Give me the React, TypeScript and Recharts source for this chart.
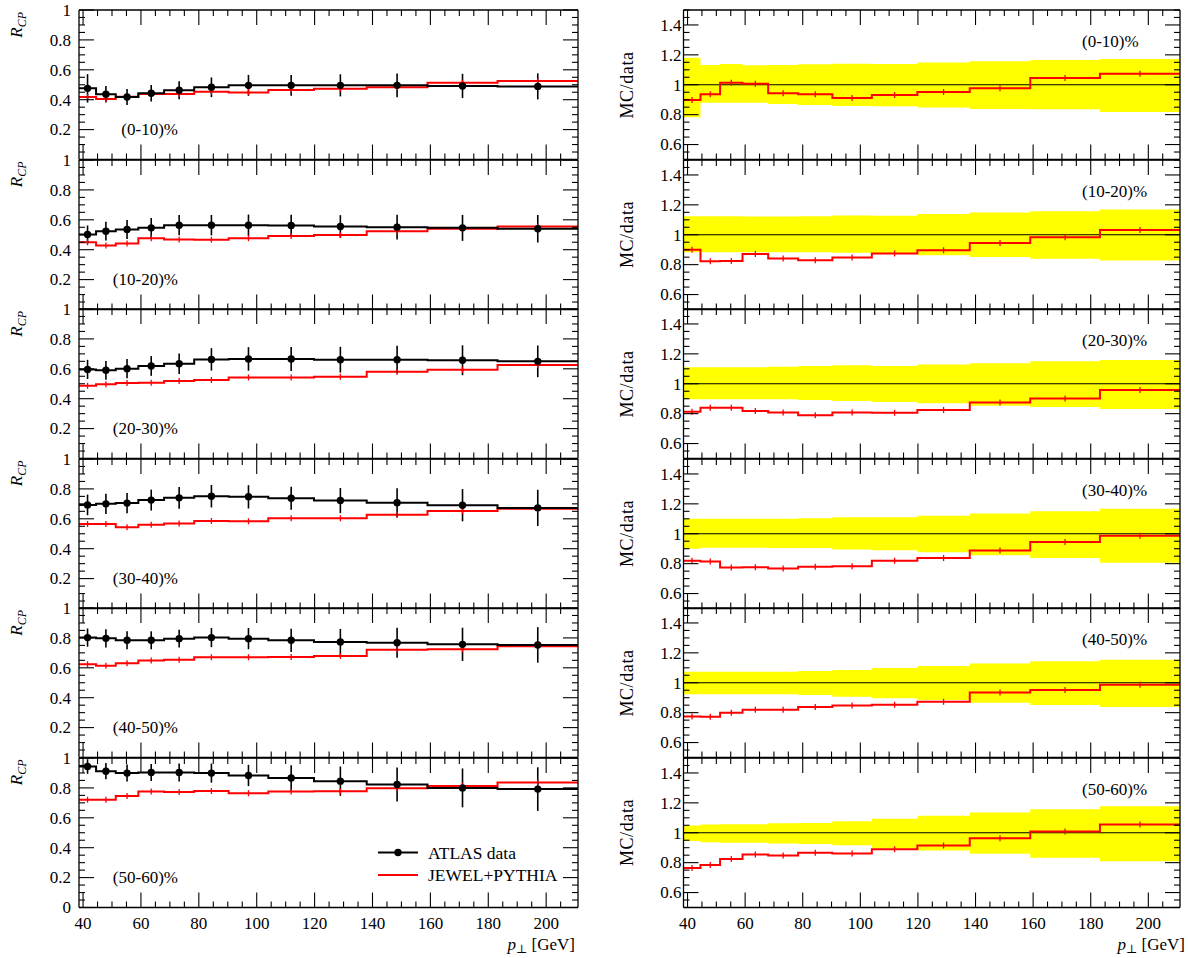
import React from 'react';
import { ComposedChart, Line, Area, Scatter, XAxis, YAxis, ErrorBar, ReferenceLine } from 'recharts';

// p_T bins (GeV), shared by every panel
const BIN_EDGES = [38.6, 44.5, 51.3, 59.1, 68.0, 78.4, 90.3, 104.0, 119.8, 138.0, 159.0, 183.2, 211.0];
const BIN_CENTERS = [41.55, 47.9, 55.2, 63.55, 73.2, 84.35, 97.15, 111.9, 128.9, 148.5, 171.1, 197.1];

const CENTRALITIES = ['(0-10)%', '(10-20)%', '(20-30)%', '(30-40)%', '(40-50)%', '(50-60)%'];

// ATLAS data R_CP, one row per centrality class
const ATLAS_RCP = [
  [0.476, 0.436, 0.418, 0.443, 0.463, 0.483, 0.496, 0.496, 0.496, 0.496, 0.492, 0.489],
  [0.502, 0.524, 0.535, 0.546, 0.564, 0.564, 0.564, 0.562, 0.555, 0.551, 0.546, 0.540],
  [0.596, 0.590, 0.601, 0.619, 0.634, 0.663, 0.666, 0.666, 0.661, 0.661, 0.657, 0.650],
  [0.693, 0.700, 0.705, 0.725, 0.740, 0.751, 0.747, 0.738, 0.722, 0.707, 0.691, 0.673],
  [0.802, 0.797, 0.784, 0.784, 0.795, 0.802, 0.795, 0.784, 0.773, 0.768, 0.757, 0.753],
  [0.943, 0.912, 0.899, 0.903, 0.903, 0.899, 0.883, 0.866, 0.845, 0.823, 0.800, 0.792],
];

const ATLAS_ERR = [
  [0.095, 0.055, 0.054, 0.055, 0.060, 0.066, 0.070, 0.069, 0.074, 0.079, 0.081, 0.087],
  [0.060, 0.063, 0.064, 0.066, 0.068, 0.068, 0.071, 0.071, 0.076, 0.082, 0.087, 0.092],
  [0.064, 0.063, 0.064, 0.066, 0.069, 0.075, 0.079, 0.080, 0.086, 0.093, 0.100, 0.106],
  [0.069, 0.068, 0.068, 0.070, 0.072, 0.075, 0.078, 0.077, 0.084, 0.098, 0.108, 0.121],
  [0.061, 0.061, 0.060, 0.060, 0.060, 0.064, 0.071, 0.078, 0.087, 0.100, 0.111, 0.119],
  [0.049, 0.054, 0.057, 0.057, 0.061, 0.064, 0.071, 0.085, 0.098, 0.114, 0.130, 0.146],
];

// JEWEL+PYTHIA R_CP
const JEWEL_RCP = [
  [0.418, 0.405, 0.420, 0.438, 0.438, 0.454, 0.449, 0.465, 0.474, 0.483, 0.514, 0.525],
  [0.450, 0.428, 0.441, 0.477, 0.468, 0.466, 0.477, 0.491, 0.499, 0.524, 0.540, 0.555],
  [0.487, 0.496, 0.505, 0.507, 0.518, 0.525, 0.541, 0.541, 0.547, 0.581, 0.594, 0.625],
  [0.566, 0.566, 0.544, 0.560, 0.569, 0.586, 0.584, 0.604, 0.604, 0.627, 0.653, 0.667],
  [0.623, 0.614, 0.630, 0.648, 0.654, 0.670, 0.670, 0.672, 0.679, 0.721, 0.724, 0.744],
  [0.720, 0.720, 0.745, 0.776, 0.772, 0.780, 0.765, 0.776, 0.778, 0.798, 0.812, 0.836],
];

// MC/data ratio
const RATIO = [
  [0.898, 0.936, 1.014, 1.007, 0.943, 0.936, 0.911, 0.931, 0.951, 0.976, 1.045, 1.074],
  [0.899, 0.823, 0.825, 0.872, 0.841, 0.830, 0.848, 0.875, 0.897, 0.944, 0.984, 1.031],
  [0.813, 0.839, 0.839, 0.817, 0.808, 0.790, 0.808, 0.806, 0.824, 0.875, 0.902, 0.958],
  [0.819, 0.814, 0.774, 0.776, 0.768, 0.779, 0.783, 0.819, 0.837, 0.888, 0.944, 0.986],
  [0.775, 0.773, 0.800, 0.820, 0.820, 0.838, 0.847, 0.853, 0.873, 0.934, 0.952, 0.987],
  [0.765, 0.785, 0.825, 0.854, 0.848, 0.866, 0.861, 0.890, 0.915, 0.964, 1.009, 1.055],
];

// data uncertainty band in the ratio panels
const BAND_HI = [
  [1.181, 1.132, 1.139, 1.130, 1.132, 1.137, 1.141, 1.139, 1.148, 1.157, 1.166, 1.172],
  [1.124, 1.124, 1.124, 1.122, 1.122, 1.124, 1.129, 1.127, 1.138, 1.149, 1.158, 1.169],
  [1.110, 1.110, 1.110, 1.110, 1.114, 1.119, 1.123, 1.119, 1.128, 1.137, 1.150, 1.159],
  [1.100, 1.100, 1.100, 1.100, 1.100, 1.104, 1.111, 1.111, 1.120, 1.135, 1.151, 1.167],
  [1.074, 1.074, 1.074, 1.074, 1.074, 1.079, 1.085, 1.099, 1.112, 1.128, 1.143, 1.154],
  [1.048, 1.055, 1.057, 1.057, 1.064, 1.066, 1.077, 1.093, 1.113, 1.135, 1.158, 1.178],
];
const BAND_LO = [
  [0.782, 0.880, 0.880, 0.880, 0.871, 0.865, 0.858, 0.856, 0.847, 0.838, 0.836, 0.818],
  [0.883, 0.883, 0.883, 0.883, 0.883, 0.883, 0.879, 0.875, 0.863, 0.852, 0.839, 0.828],
  [0.896, 0.896, 0.896, 0.896, 0.896, 0.891, 0.885, 0.878, 0.869, 0.853, 0.844, 0.831],
  [0.899, 0.906, 0.906, 0.906, 0.904, 0.904, 0.895, 0.890, 0.877, 0.857, 0.837, 0.806],
  [0.923, 0.923, 0.923, 0.923, 0.923, 0.918, 0.907, 0.896, 0.885, 0.867, 0.851, 0.838],
  [0.944, 0.937, 0.933, 0.933, 0.928, 0.924, 0.917, 0.897, 0.881, 0.859, 0.832, 0.810],
];

const X_MAJOR = [40, 60, 80, 100, 120, 140, 160, 180, 200];
const X_MINOR = [45, 50, 55, 65, 70, 75, 85, 90, 95, 105, 110, 115, 125, 130, 135, 145, 150, 155, 165, 170, 175, 185, 190, 195, 205];
const RCP_MAJOR = [0, 0.2, 0.4, 0.6, 0.8, 1];
const RATIO_MAJOR = [0.6, 0.8, 1, 1.2, 1.4];

const X_DOMAIN = [38.6, 211];
const RCP_DOMAIN = [0, 1];
const RATIO_DOMAIN = [0.5, 1.5];

const FONT = '"Liberation Serif", "DejaVu Serif", serif';
const PANEL_TOP = 10;
const PANEL_H = 149.5;
const TOP_H = 20;
const BOTTOM_H = 50.5;
const CHART_H = TOP_H + PANEL_H + BOTTOM_H;
const MAJOR_LEN = 15;
const MINOR_LEN = 6;
const FRAME = { stroke: '#000', strokeWidth: 1.3 };

const fineTicks = (lo: number, hi: number) => {
  const out: number[] = [];
  for (let v = lo; v <= hi + 1e-9; v += 0.05) out.push(Math.round(v * 100) / 100);
  return out;
};
const X_TICKS = [...X_MAJOR, ...X_MINOR].sort((a, b) => a - b);
const RCP_TICKS = fineTicks(0, 1);
const RATIO_TICKS = fineTicks(0.5, 1.5);

const isIn = (v: number, list: number[]) => list.some((m) => Math.abs(m - v) < 1e-6);
const fmt = (v: number) => String(Math.round(v * 100) / 100);
const panelTop = (k: number) => PANEL_TOP + PANEL_H * k;

const BottomTick = ({ x, y, payload, showLabel }: any) => {
  const major = isIn(payload.value, X_MAJOR);
  return (
    <g>
      <line x1={x} x2={x} y1={y} y2={y - (major ? MAJOR_LEN : MINOR_LEN)} stroke="#000" strokeWidth={1.1} />
      {showLabel && major && (
        <text x={x} y={y + 21} textAnchor="middle" fontFamily={FONT} fontSize={17} fill="#000">
          {payload.value}
        </text>
      )}
    </g>
  );
};

const TopTick = ({ x, y, payload }: any) => {
  const major = isIn(payload.value, X_MAJOR);
  return <line x1={x} x2={x} y1={y} y2={y + (major ? MAJOR_LEN : MINOR_LEN)} stroke="#000" strokeWidth={1.1} />;
};

const LeftTick = ({ x, y, payload, majors, labels, gap }: any) => {
  const major = isIn(payload.value, majors);
  return (
    <g>
      <line x1={x} x2={x + (major ? MAJOR_LEN : MINOR_LEN)} y1={y} y2={y} stroke="#000" strokeWidth={1.1} />
      {isIn(payload.value, labels) && (
        <text x={x - gap} y={y + 5.8} textAnchor="end" fontFamily={FONT} fontSize={17} fill="#000">
          {fmt(payload.value)}
        </text>
      )}
    </g>
  );
};

const RightTick = ({ x, y, payload, majors }: any) => {
  const major = isIn(payload.value, majors);
  return <line x1={x} x2={x - (major ? MAJOR_LEN : MINOR_LEN)} y1={y} y2={y} stroke="#000" strokeWidth={1.1} />;
};

const DataDot = (p: any) => <circle cx={p.cx} cy={p.cy} r={3.7} fill="#000" />;
const RedTick = (p: any) => (
  <line x1={p.cx} x2={p.cx} y1={p.cy - 3} y2={p.cy + 3} stroke="#ff0000" strokeWidth={1.3} />
);

const Axes = ({ k, yDomain, yTicks, majors, labels, leftW, rightW, gap }: any) => {
  const last = k === CENTRALITIES.length - 1;
  return (
    <>
      <XAxis
        dataKey="x"
        type="number"
        domain={X_DOMAIN}
        ticks={X_TICKS}
        interval={0}
        height={BOTTOM_H}
        tickSize={0}
        tickMargin={0}
        tickLine={false}
        axisLine={FRAME}
        allowDataOverflow
        tick={(p: any) => <BottomTick {...p} showLabel={last} />}
      />
      <XAxis
        xAxisId="top"
        orientation="top"
        dataKey="x"
        type="number"
        domain={X_DOMAIN}
        ticks={X_TICKS}
        interval={0}
        height={TOP_H}
        tickSize={0}
        tickMargin={0}
        tickLine={false}
        axisLine={FRAME}
        allowDataOverflow
        tick={(p: any) => <TopTick {...p} />}
      />
      <YAxis
        type="number"
        domain={yDomain}
        ticks={yTicks}
        interval={0}
        width={leftW}
        tickSize={0}
        tickMargin={0}
        tickLine={false}
        axisLine={FRAME}
        allowDataOverflow
        tick={(p: any) => <LeftTick {...p} majors={majors} labels={labels} gap={gap} />}
      />
      <YAxis
        yAxisId="right"
        orientation="right"
        type="number"
        domain={yDomain}
        ticks={yTicks}
        interval={0}
        width={rightW}
        tickSize={0}
        tickMargin={0}
        tickLine={false}
        axisLine={FRAME}
        allowDataOverflow
        tick={(p: any) => <RightTick {...p} majors={majors} />}
      />
    </>
  );
};

const RcpPanel = ({ k }: { k: number }) => {
  const last = k === CENTRALITIES.length - 1;
  const rows = BIN_EDGES.map((x, i) => {
    const j = Math.min(i, BIN_CENTERS.length - 1);
    return { x, atlas: ATLAS_RCP[k][j], jewel: JEWEL_RCP[k][j] };
  });
  const points = BIN_CENTERS.map((x, i) => ({ x, y: ATLAS_RCP[k][i], err: ATLAS_ERR[k][i] }));
  const mcPoints = BIN_CENTERS.map((x, i) => ({ x, y: JEWEL_RCP[k][i] }));
  const labels = last ? RCP_MAJOR : RCP_MAJOR.filter((v) => v > 0);
  return (
    <div style={{ position: 'absolute', left: 0, top: panelTop(k) - TOP_H }}>
      <ComposedChart width={600} height={CHART_H} data={rows} margin={{ top: 0, right: 0, bottom: 0, left: 0 }}>
        {Axes({ k, yDomain: RCP_DOMAIN, yTicks: RCP_TICKS, majors: RCP_MAJOR, labels, leftW: 79, rightW: 22, gap: 8 })}
        <Line dataKey="jewel" type="stepAfter" stroke="#ff0000" strokeWidth={2} dot={false} activeDot={false} isAnimationActive={false} />
        <Line dataKey="atlas" type="stepAfter" stroke="#000" strokeWidth={2} dot={false} activeDot={false} isAnimationActive={false} />
        <Scatter data={mcPoints} dataKey="y" shape={RedTick} isAnimationActive={false} />
        <Scatter data={points} dataKey="y" shape={DataDot} isAnimationActive={false}>
          <ErrorBar dataKey="err" direction="y" width={0} stroke="#000" strokeWidth={1.6} />
        </Scatter>
      </ComposedChart>
    </div>
  );
};

const RatioPanel = ({ k }: { k: number }) => {
  const rows = BIN_EDGES.map((x, i) => {
    const j = Math.min(i, BIN_CENTERS.length - 1);
    return { x, band: [BAND_LO[k][j], BAND_HI[k][j]], ratio: RATIO[k][j] };
  });
  const ratioPoints = BIN_CENTERS.map((x, i) => ({ x, y: RATIO[k][i] }));
  return (
    <div style={{ position: 'absolute', left: 600, top: panelTop(k) - TOP_H }}>
      <ComposedChart width={588} height={CHART_H} data={rows} margin={{ top: 0, right: 0, bottom: 0, left: 0 }}>
        {Axes({ k, yDomain: RATIO_DOMAIN, yTicks: RATIO_TICKS, majors: RATIO_MAJOR, labels: RATIO_MAJOR, leftW: 83.5, rightW: 8, gap: 2 })}
        <Area dataKey="band" type="stepAfter" fill="#ffff00" fillOpacity={1} stroke="none" activeDot={false} isAnimationActive={false} />
        <ReferenceLine y={1} stroke="#000" strokeWidth={1} />
        <Line dataKey="ratio" type="stepAfter" stroke="#ff0000" strokeWidth={2} dot={false} activeDot={false} isAnimationActive={false} />
        <Scatter data={ratioPoints} dataKey="y" shape={RedTick} isAnimationActive={false} />
      </ComposedChart>
    </div>
  );
};

const Labels = () => (
  <svg width={1188} height={958} style={{ position: 'absolute', left: 0, top: 0, pointerEvents: 'none' }} fontFamily={FONT} fill="#000">
    {CENTRALITIES.map((c, k) => {
      const top = panelTop(k);
      return (
        <g key={c}>
          <text transform={`translate(21.5 ${top + 2}) rotate(-90)`} textAnchor="end" fontSize={17} fontStyle="italic">
            R<tspan fontSize={12} dy={4}>CP</tspan>
          </text>
          <text transform={`translate(633 ${top + 75}) rotate(-90)`} textAnchor="middle" fontSize={18} letterSpacing={0.6}>
            MC/data
          </text>
          <text x={178} y={top + 125} textAnchor="end" fontSize={17}>{c}</text>
          <text x={1082} y={top + 37} fontSize={17}>{c}</text>
        </g>
      );
    })}
    <text x={575} y={950} textAnchor="end" fontSize={17}>
      <tspan fontStyle="italic">p</tspan>
      <tspan fontSize={12} dy={3}>⊥</tspan>
      <tspan dy={-3}> [GeV]</tspan>
    </text>
    <text x={1185} y={950} textAnchor="end" fontSize={17}>
      <tspan fontStyle="italic">p</tspan>
      <tspan fontSize={12} dy={3}>⊥</tspan>
      <tspan dy={-3}> [GeV]</tspan>
    </text>
    <line x1={378} x2={418} y1={852.5} y2={852.5} stroke="#000" strokeWidth={2} />
    <circle cx={398} cy={852.5} r={3.7} fill="#000" />
    <text x={428} y={858.5} fontSize={17.5}>ATLAS data</text>
    <line x1={378} x2={418} y1={875} y2={875} stroke="#ff0000" strokeWidth={2} />
    <text x={428} y={880.5} fontSize={17.5}>JEWEL+PYTHIA</text>
  </svg>
);

export default function App() {
  return (
    <div style={{ position: 'absolute', left: 0, top: 0, width: 1188, height: 958, background: '#fff' }}>
      {CENTRALITIES.map((c, k) => (
        <RcpPanel key={`l${c}`} k={k} />
      ))}
      {CENTRALITIES.map((c, k) => (
        <RatioPanel key={`r${c}`} k={k} />
      ))}
      <Labels />
    </div>
  );
}
